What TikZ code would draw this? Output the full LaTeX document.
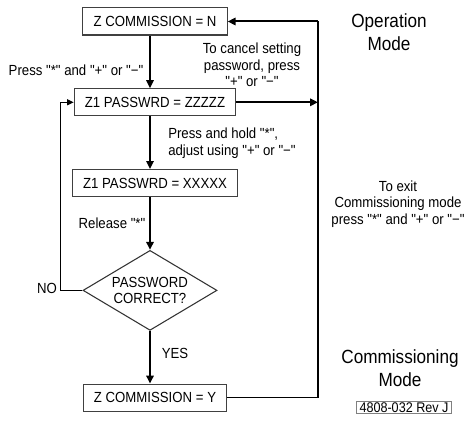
\documentclass[tikz,border=0pt]{standalone}
\usepackage{fontspec}
\setmainfont{Liberation Sans}[FakeStretch=0.9, Ligatures=TeXOff]
\usetikzlibrary{arrows.meta,positioning,shapes.geometric}
\tikzset{
  blk/.style={draw=black!75, line width=0.8pt, inner xsep=8pt, minimum height=20.3pt,
              font=\fontsize{11}{13}\selectfont},
  dec/.style={draw=black!80, line width=0.8pt, diamond, aspect=1.65, minimum width=100.5pt,
              minimum height=60pt, inner sep=0pt, align=center, font=\fontsize{11}{12}\selectfont},
  sig/.style={-{Triangle[length=6pt,width=5.5pt]}, line width=1.5pt},
  ret/.style={-{Triangle[length=5pt,width=4.5pt]}, line width=0.8pt},
  lbl/.style={font=\fontsize{11}{12.5}\selectfont, align=center, inner sep=0pt},
  mode/.style={font=\fontsize{14.3}{17}\selectfont, align=center, inner sep=0pt},
}
\begin{document}
\begin{tikzpicture}[x=0.75pt, y=-0.75pt, node distance=39.5pt]
    \useasboundingbox (0,0) rectangle (466,420);
    % main column, arrows run down x=150
    \coordinate (ax) at (150,0);
    \coordinate (rx) at (318,0);
    \node[blk] (cn) at (155,21.5) {Z COMMISSION = N};
    \node[blk,below=of cn] (zz) {Z1 PASSWRD = ZZZZZ};
    \node[blk,below=of zz] (xx) {Z1 PASSWRD = XXXXX};
    \node[dec,below=of xx,xshift=-3.75pt] (ok) {PASSWORD\\CORRECT?};
    \node[blk,below=of ok,xshift=3.75pt] (cy) {Z COMMISSION = Y};
    \draw[sig] (cn.south -| ax)--(zz.north -| ax);
    \draw[sig] (zz.south -| ax)--(xx.north -| ax);
    \draw[sig] (xx.south -| ax)--(ok.north);
    \draw[sig] (ok.south)--(cy.north -| ax);
    % loops
    \draw[ret] (ok.west) -- ++(-22,0) |- (zz.west);
    \draw[sig] (zz.east) -- (zz.east -| rx);
    \draw[line width=0.8pt] (cy.east) -| (rx |- cn.east);
    \draw[sig] (rx |- cn.east) -- (cn.east);
    % labels
    \node[lbl] (press) at (76,70) {Press "*" and "+" or "−"};
    \node[lbl] (cancel) at (252,65) {To cancel setting\\password, press\\"+" or "−"};
    \node[lbl,anchor=west,align=left] (hold) at (168,143.5) {Press and hold "*",\\adjust using "+" or "−"};
    \node[lbl] (rel) at (112,223) {Release "*"};
    \node[lbl] (yes) at (175,353) {YES};
    \node[lbl] (no) at (47,288) {NO};
    \node[lbl] (exit) at (398,204) {To exit\\Commissioning mode\\press "*" and "+" or "−"};
    \node[mode] (opm) at (389,32) {Operation\\Mode};
    \node[mode] (cmm) at (400,368) {Commissioning\\Mode};
    \node[draw=black!50, line width=0.6pt, inner xsep=2pt, inner ysep=1pt,
          font=\fontsize{10.5}{12}\selectfont] (rev) at (404,407.5) {4808-032 Rev J};
  \end{tikzpicture}
\end{document}
